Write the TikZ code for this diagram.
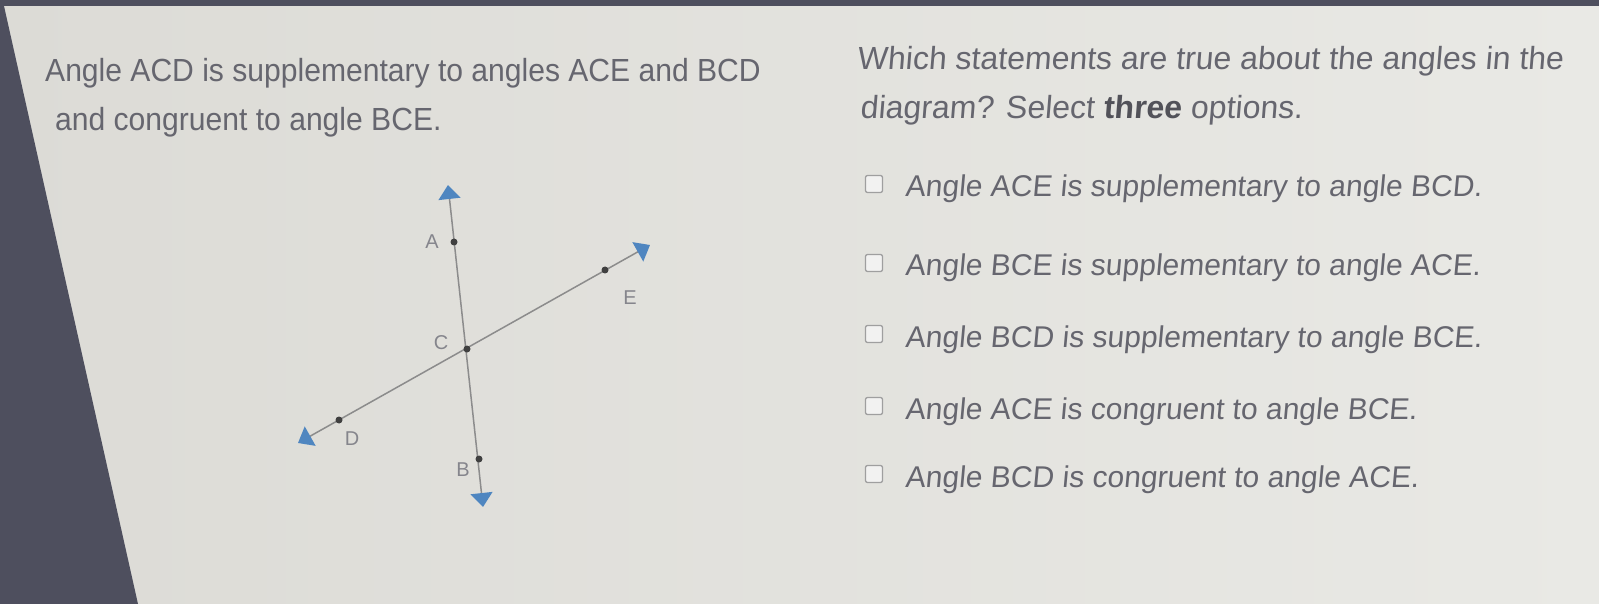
\documentclass[tikz,border=0pt]{standalone}
\usepackage{fontspec}
\setmainfont{Liberation Sans}
\newfontfamily\leftfont[FakeStretch=0.94]{Liberation Sans}
\newfontfamily\rightfont[FakeStretch=1.0,FakeSlant=0.08]{Liberation Sans}
\newfontfamily\optfont[FakeStretch=1.0,FakeSlant=0.09]{Liberation Sans}
\usepackage{xcolor}
\usetikzlibrary{arrows.meta}
\definecolor{screenbg}{HTML}{E3E3DF}
\definecolor{screenleft}{HTML}{DCDBD6}
\definecolor{screenright}{HTML}{E9E9E5}
\definecolor{bezel}{HTML}{4E4F5E}
\definecolor{txtgray}{HTML}{66666F}
\definecolor{linegray}{HTML}{8C8C8C}
\definecolor{tipblue}{HTML}{4F86C0}
\pgfkeys{tikz/qtext/.style={anchor=base west,inner sep=0pt,text=txtgray}}
\pgfkeys{tikz/lefttext/.style={qtext,font=\leftfont\fontsize{32}{38}\selectfont}}
\pgfkeys{tikz/righttext/.style={qtext,font=\rightfont\fontsize{32}{38}\selectfont}}
\pgfkeys{tikz/opttext/.style={qtext,font=\optfont\fontsize{30}{36}\selectfont}}
\pgfkeys{tikz/ptdot/.style={circle,fill=black!75,inner sep=0pt,minimum size=7pt}}
\pgfkeys{tikz/ptlabel/.style={text=txtgray!80,font=\fontsize{20}{24}\selectfont,inner sep=0pt}}
\pgfkeys{tikz/geoline/.style={draw=linegray,line width=1.5pt,{Triangle[color=tipblue,length=14pt,width=22pt]}-{Triangle[color=tipblue,length=14pt,width=22pt]}}}
\pgfkeys{tikz/chkbox/.style={draw=gray!75,fill=white!55!screenbg,rounded corners=2pt,minimum size=17pt,inner sep=0pt,line width=1.3pt}}
\newcommand*\optionrow[3]{
    \node[chkbox] (box#1) at (874,#2) {};
    \node[opttext] (opt#1) at (905,#2+13) {#3};
}

\begin{document}
\begin{tikzpicture}[x=1pt,y=-1pt]
    \useasboundingbox (0,0) rectangle (1599,604);
    \shade[left color=screenleft,right color=screenright] (0,0) rectangle (1599,604);
    \fill[bezel] (0,0) -- (1599,0) -- (1599,6) -- (4,6) -- (138,604) -- (0,604) -- cycle;
    \node[lefttext] (given1) at (45,82) {Angle ACD is supplementary to angles ACE and BCD};
    \node[lefttext] (given2) at (55,131) {and congruent to angle BCE.};
    \node[righttext] (ask1) at (857,70) {Which statements are true about the angles in the};
    \node[righttext] (ask2) at (860,119) {diagram? Select {\bfseries\color{txtgray!80!black}three} options.};
    \optionrow{1}{184}{Angle ACE is supplementary to angle BCD.}
    \optionrow{2}{263}{Angle BCE is supplementary to angle ACE.}
    \optionrow{3}{334}{Angle BCD is supplementary to angle BCE.}
    \optionrow{4}{406}{Angle ACE is congruent to angle BCE.}
    \optionrow{5}{474}{Angle BCD is congruent to angle ACE.}
    \coordinate (topTip) at (448,185);
    \coordinate (botTip) at (483,507);
    \coordinate (dTip) at (298,443);
    \coordinate (eTip) at (650,245);
    \draw[geoline] (botTip) -- (topTip);
    \draw[geoline] (dTip) -- (eTip);
    \node[ptdot] (A) at (454,242) {};
    \node[ptdot] (C) at (467,349) {};
    \node[ptdot] (B) at (479,459) {};
    \node[ptdot] (D) at (339,420) {};
    \node[ptdot] (E) at (605,270) {};
    \node[ptlabel] (labA) at (432,242) {A};
    \node[ptlabel] (labC) at (441,343) {C};
    \node[ptlabel] (labB) at (463,470) {B};
    \node[ptlabel] (labD) at (352,439) {D};
    \node[ptlabel] (labE) at (630,298) {E};
\end{tikzpicture}
\end{document}
